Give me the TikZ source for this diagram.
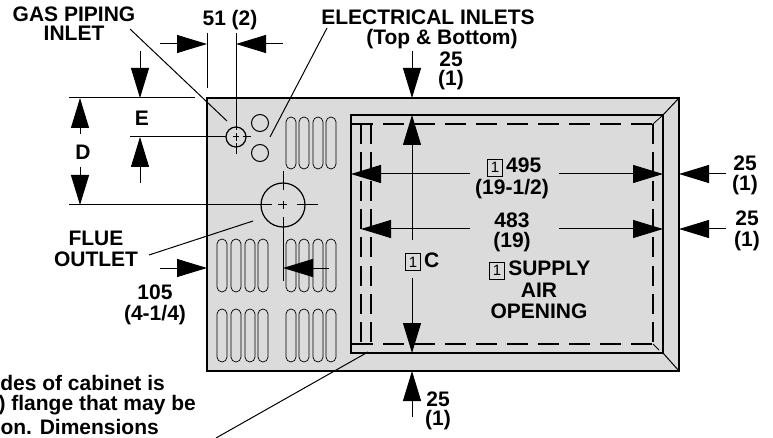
\documentclass[tikz,border=0pt]{standalone}
\usepackage{fontspec}
\setmainfont{Liberation Sans}
\usetikzlibrary{arrows.meta}
\definecolor{cabinet}{gray}{.86}
\newcommand{\boxone}{{\fboxsep=2.8pt\fboxrule=.8pt\fbox{\fontsize{15}{15}\selectfont\mdseries 1}}}
\tikzset{
  lbl/.style={font=\fontsize{21}{21}\selectfont\bfseries,inner sep=0pt},
  dimline/.style={line width=1pt},
  leader/.style={line width=1pt},
  slot/.style={line width=.7pt,rounded corners=5pt},
  hdash/.style={line width=1.2pt,dash pattern=on 21pt off 10pt},
  vdash/.style={line width=1.2pt,dash pattern=on 20pt off 8.3pt},
}
\begin{document}
\begin{tikzpicture}[x=1pt,y=-1pt,>={Triangle[length=30pt,width=18pt]}]
\useasboundingbox (0,0) rectangle (773,438);
\clip (0,0) rectangle (773,438);
% cabinet
\draw[line width=2pt,fill=cabinet] (207,98) rectangle (679,371);
\draw[line width=1.3pt] (351,115) rectangle (663,353);
\draw[line width=1pt] (663,115)--(679,98);
\draw[line width=1pt] (663,353)--(679,371);
\draw[line width=.8pt] (653,124)--(663,115);
\draw[line width=.8pt] (653,344)--(659,350);
% duct outline
\draw[hdash] (383,124)--(653,124);
\draw[hdash] (383,344)--(653,344);
\foreach \x in {361,371,653} {
  \draw[vdash] (\x,124)--(\x,344);
}
\draw[line width=1.2pt] (351,124)--(373,124);
\draw[line width=1.2pt] (351,344)--(373,344);
% slots
\foreach \x in {286,299,313,326} {
  \draw[slot] (\x,117) rectangle +(10,52);
  \draw[slot] (\x,239) rectangle +(10,53);
  \draw[slot] (\x,309) rectangle +(10,53);
}
\foreach \x in {217,231,245,258} {
  \draw[slot] (\x,239) rectangle +(10,53);
  \draw[slot] (\x,309) rectangle +(10,53);
}
% inlets
\draw[line width=1pt] (260,123) circle(8.5);
\draw[line width=1pt] (260,153) circle(8.5);
\draw[line width=1.2pt] (236,137) circle(10);
\draw[line width=1.2pt] (283,205) circle(22);
% centre lines
\draw[dimline] (236,33)--(236,130);
\draw[dimline] (236,133)--(236,141);
\draw[dimline] (236,143)--(236,154);
\draw[dimline] (130,137)--(226,137);
\draw[dimline] (233,137)--(239,137);
\draw[dimline] (243,137)--(251,137);
\draw[dimline] (69,205)--(272,205);
\draw[dimline] (278,205)--(287,205);
\draw[dimline] (297,205)--(318,205);
\draw[dimline] (283,171)--(283,190);
\draw[dimline] (283,201)--(283,209);
\draw[dimline] (283,217)--(283,281);
\draw[dimline] (207,33)--(207,88);
\draw[dimline] (69,98)--(195,98);
% dimensions
\draw[dimline,->] (160,44)--(207,44);
\draw[dimline,->] (283,44)--(236,44);
\draw[dimline,->] (140,51)--(140,98);
\draw[dimline,->] (140,183)--(140,137);
\draw[dimline,->] (80,134)--(80,98);
\draw[dimline,->] (80,167)--(80,205);
\draw[dimline,->] (160,268)--(207,268);
\draw[dimline,->] (329,268)--(283,268);
\draw[dimline,->] (412,51)--(412,98);
\draw[dimline,->] (412,240)--(412,115);
\draw[dimline,->] (412,278)--(412,353);
\draw[dimline,->] (412,417)--(412,371);
\draw[dimline,->] (470,174)--(351,174);
\draw[dimline,->] (559,174)--(663,174);
\draw[dimline,->] (726,174)--(679,174);
\draw[dimline,->] (470,229)--(361,229);
\draw[dimline,->] (559,229)--(663,229);
\draw[dimline,->] (726,229)--(679,229);
% leaders
\draw[leader] (130,29)--(227,121);
\draw[leader] (327,28)--(270,137);
\draw[leader] (253,221)--(149,255);
\draw[leader] (368,352)--(216,438);
% labels
\node[lbl] (gas) at (74,14) {GAS PIPING};
\node[lbl] (gasb) at (74,33) {INLET};
\node[lbl] (dimb) at (230,20) {51 (2)};
\node[lbl] (dime) at (142,118) {E};
\node[lbl] (dimd) at (83,152) {D};
\node[lbl] (elec) at (428,17) {ELECTRICAL INLETS};
\node[lbl] (elecb) at (442,39) {(Top \& Bottom)};
\node[lbl] (topa) at (451,59) {25};
\node[lbl] (topb) at (451,80) {(1)};
\node[lbl,anchor=base west] (wide) at (487,173) {\boxone\,495};
\node[lbl] (wideb) at (512,189) {(19-1/2)};
\node[lbl] (ducta) at (512,220) {483};
\node[lbl] (ductb) at (512,242) {(19)};
\node[lbl] (righta) at (745,163) {25};
\node[lbl] (rightb) at (745,185) {(1)};
\node[lbl] (rightc) at (747,218) {25};
\node[lbl] (rightd) at (747,241) {(1)};
\node[lbl,anchor=base west] (dimc) at (405,267) {\boxone\,C};
\node[lbl,anchor=base west] (air) at (489,276) {\boxone\,SUPPLY};
\node[lbl] (airb) at (539,290) {AIR};
\node[lbl] (airc) at (539,311) {OPENING};
\node[lbl] (bota) at (438,399) {25};
\node[lbl] (botb) at (438,420) {(1)};
\node[lbl] (flue) at (96,238) {FLUE};
\node[lbl] (flueb) at (96,259) {OUTLET};
\node[lbl] (offa) at (155,292) {105};
\node[lbl] (offb) at (155,315) {(4-1/4)};
\node[lbl,anchor=east] (notea) at (165,383) {des of cabinet is};
\node[lbl,anchor=east] (noteb) at (196,405) {) flange that may be};
\node[lbl,anchor=east] (notec) at (159,427) {on. Dimensions};
\end{tikzpicture}
\end{document}
